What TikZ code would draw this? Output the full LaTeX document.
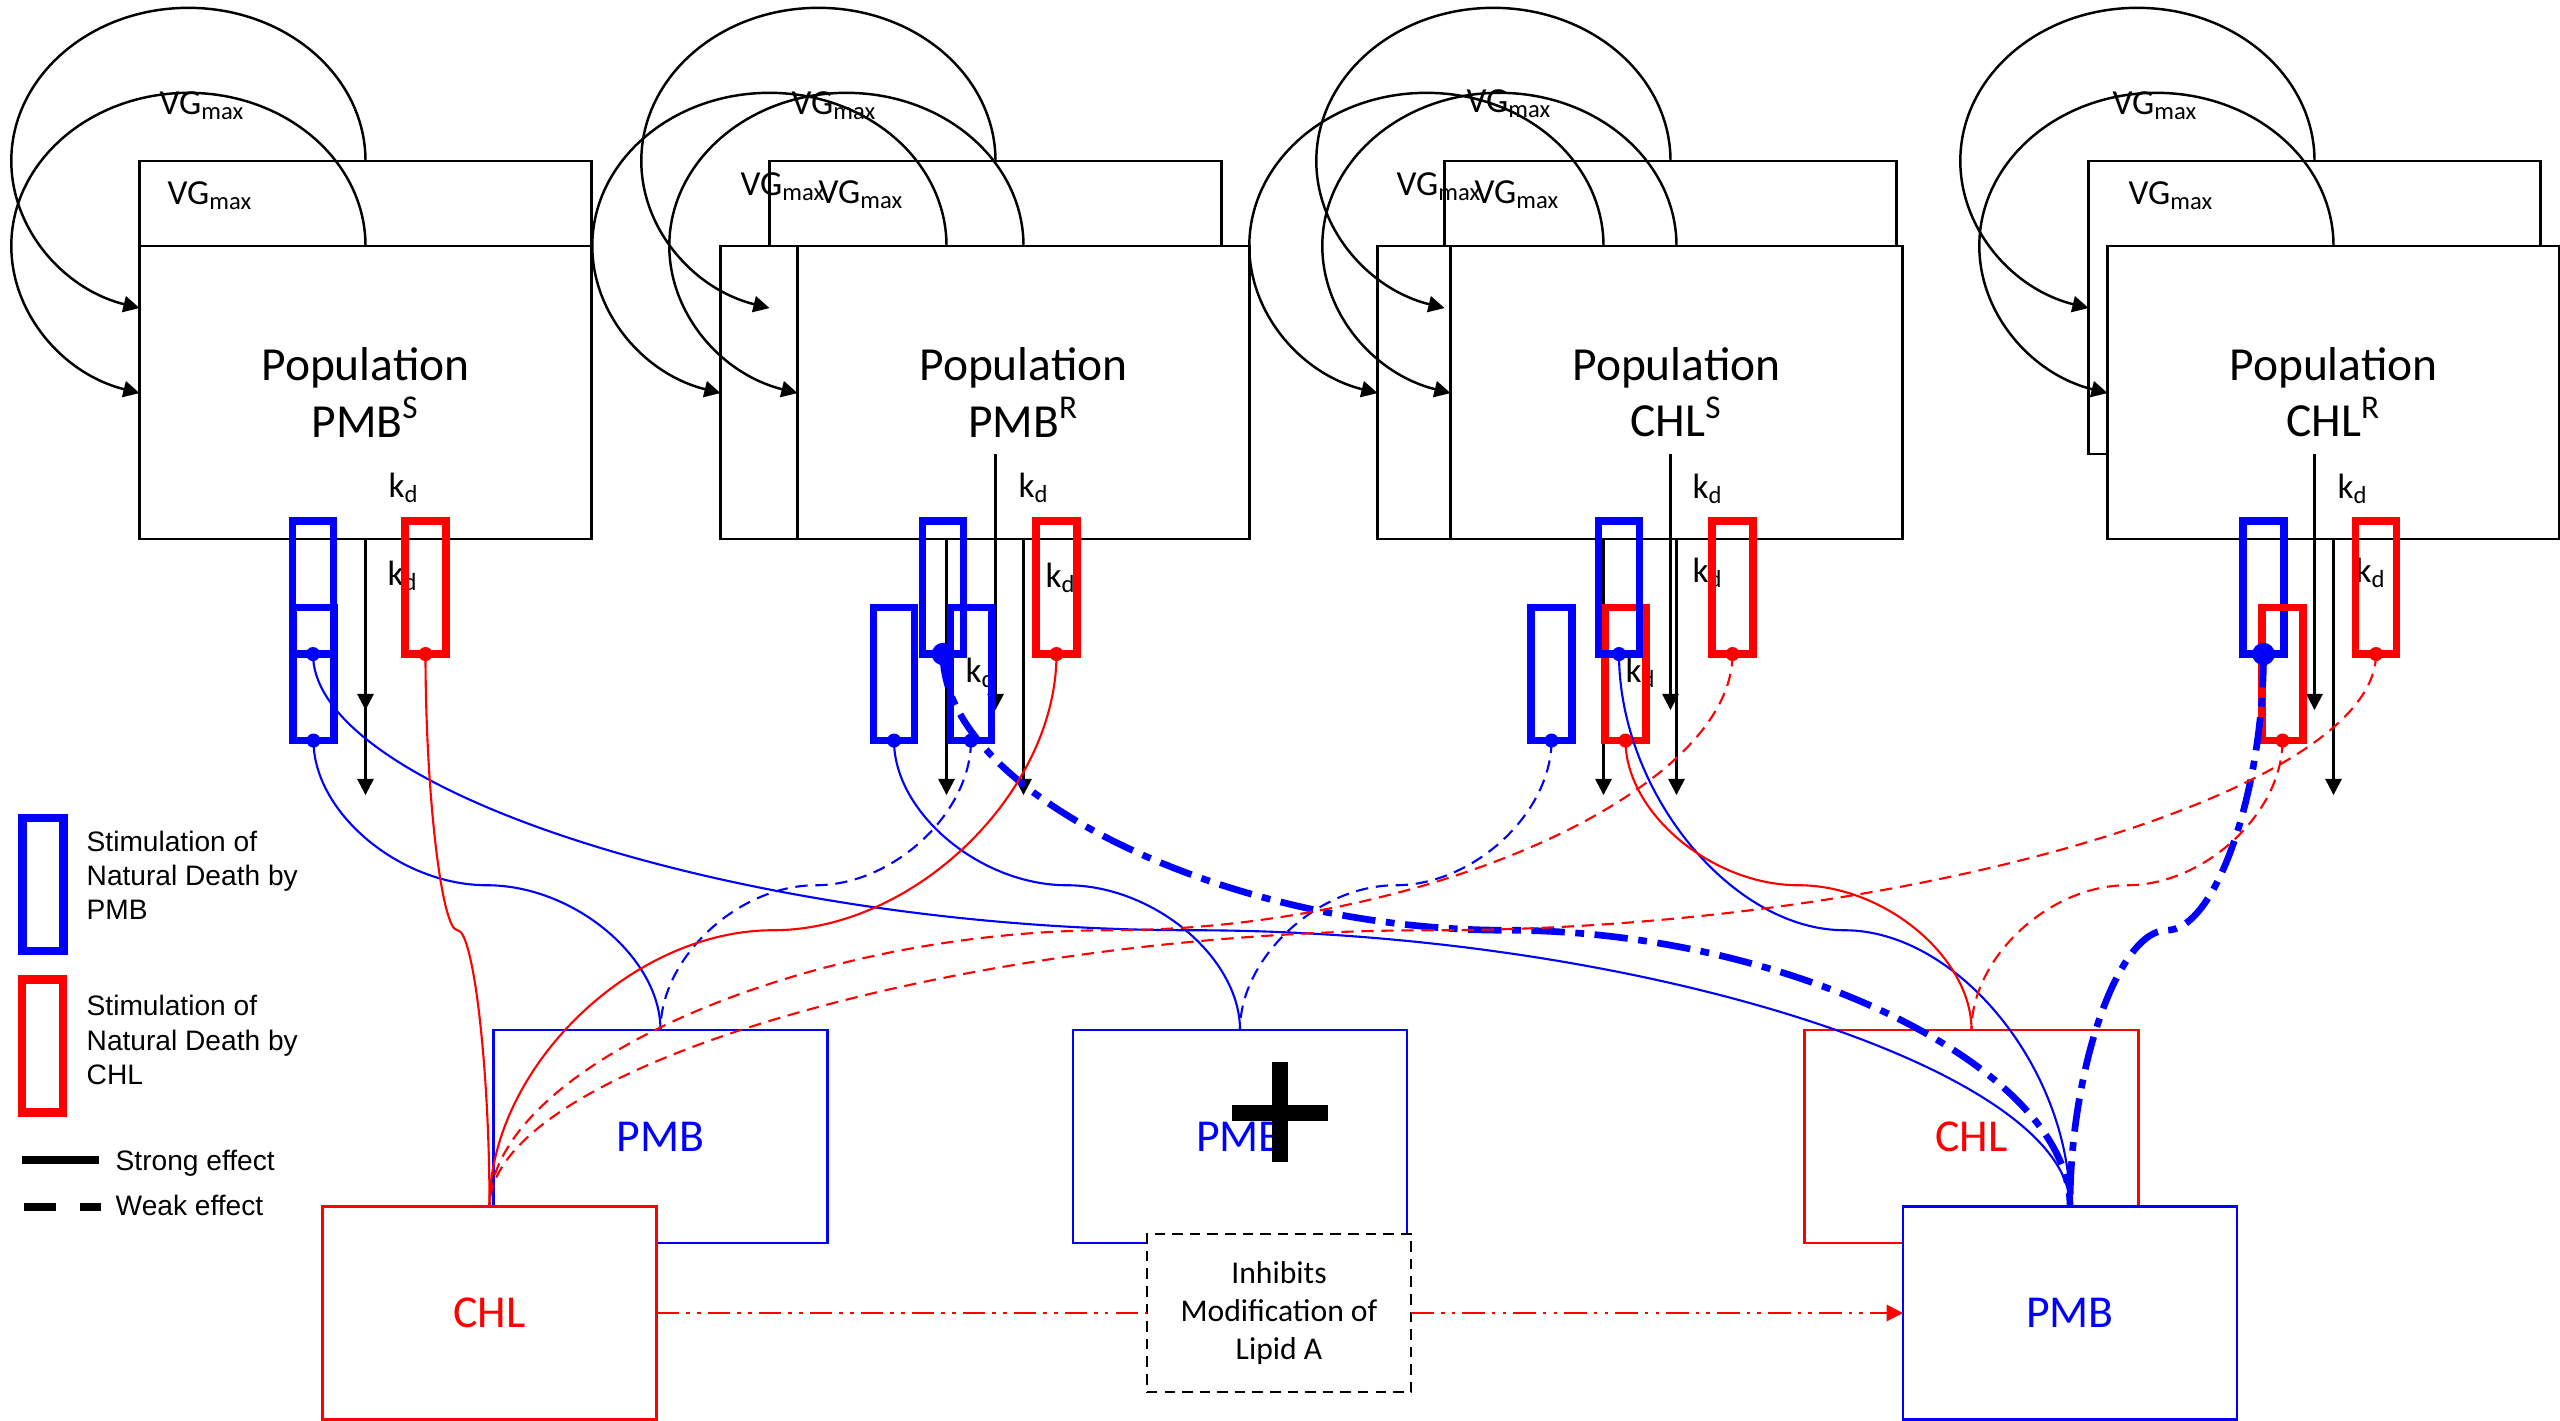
\documentclass[tikz,border=0pt]{standalone}
\usepackage{fontspec}
\setmainfont{Carlito}
\newfontfamily\legendfont{Liberation Sans}
\usetikzlibrary{arrows.meta,calc}

\newcommand{\poptext}{\fontsize{13.5pt}{16pt}\selectfont}
\newcommand{\drugtext}{\fontsize{13pt}{15.6pt}\selectfont}
\newcommand{\ratetext}{\fontsize{10pt}{12pt}\selectfont}
\newcommand{\notetext}{\fontsize{9pt}{10.8pt}\selectfont}
\newcommand{\legtext}{\legendfont\fontsize{8pt}{9.7pt}\selectfont}

% curved connector that runs flat half way between its ends
\newcommand{\curvelink}[3][]{%
  \draw[#1] let \p1=(#2), \p2=(#3) in (\p1)
    .. controls (\x1,{0.75*(\y1)+0.25*(\y2)}) and ({0.75*(\x1)+0.25*(\x2)},{0.5*(\y1)+0.5*(\y2)})
    .. ({0.5*(\x1)+0.5*(\x2)},{0.5*(\y1)+0.5*(\y2)})
    .. controls ({0.25*(\x1)+0.75*(\x2)},{0.5*(\y1)+0.5*(\y2)}) and (\x2,{0.25*(\y1)+0.75*(\y2)})
    .. (\p2);}

\tikzset{
  popbox/.style={draw, fill=white, line width=0.8pt, minimum width=4.51cm,
    minimum height=2.93cm, inner sep=0pt, outer sep=0pt, align=center, font=\poptext},
  drugbox/.style={draw=#1, text=#1, fill=white, line width=0.75pt, minimum width=3.34cm,
    minimum height=2.13cm, inner sep=0pt, outer sep=0pt, font=\drugtext},
  stimbox/.style={draw=#1, line width=2.1pt, minimum width=0.41cm, minimum height=1.33cm,
    inner sep=0pt, outer sep=0pt},
  rate/.style={anchor=base west, inner sep=0pt, font=\ratetext},
  flow/.style={line width=0.7pt, -{Triangle[width=4.6pt,length=4.6pt]}},
  strong/.style={line width=0.6pt},
  weak/.style={line width=0.6pt, dash pattern=on 3.5pt off 2.2pt},
  boost/.style={line width=1.9pt, dash pattern=on 9.5pt off 3pt on 2.5pt off 3pt},
  lipid/.style={red, line width=0.7pt, dash pattern=on 6.5pt off 2pt on 1pt off 2pt on 1pt off 2pt},
  legend/.style={anchor=west, align=left, inner sep=0pt, font=\legtext},
}

\begin{document}
\begin{tikzpicture}[x=0.01cm, y=-0.01cm]
  \useasboundingbox (0,0) rectangle (2560,1421);

  % --- population boxes, back copies first ---
  \node[popbox] (popPS0) at (365.5,307.5) {};
  \draw[flow] (popPS0.south) -- +(0,256);
  \node[popbox] (popPS) at (365.5,392.5) {Population\\PMB\textsuperscript{S}};
  \node[popbox] (popPR0) at (995.5,307.5) {};
  \node[popbox] (popPR1) at (946.5,392.5) {};
  \node[popbox] (popPR) at (1023.5,392.5) {Population\\PMB\textsuperscript{R}};
  \node[popbox] (popCS0) at (1670.5,307.5) {};
  \node[popbox] (popCS1) at (1603.5,392.5) {};
  \node[popbox] (popCS) at (1676.5,392.5) {Population\\CHL\textsuperscript{S}};
  \node[popbox] (popCR0) at (2314.5,307.5) {};
  \node[popbox] (popCR) at (2333.5,392.5) {Population\\CHL\textsuperscript{R}};

  % --- growth loops ---
  \foreach \p in {popPS0,popPS,popPR0,popPR1,popPR,popCS0,popCS1,popCS,popCR0,popCR}
    \draw[flow] (\p.north) arc[start angle=0, end angle=254, x radius=1.77cm, y radius=1.53cm];

  % --- natural death ---
  \foreach \p in {popPS,popPR0,popPR1,popPR,popCS0,popCS1,popCS,popCR0,popCR}
    \draw[flow] (\p.south) -- +(0,256);

  % --- rate labels ---
  \foreach \a/\b [count=\i] in {159/114, 167/204, 791/114, 740/195, 818/203,
      1466/112, 1396/195, 1474/203, 2112/114, 2128/204}
    \node[rate] (vg\i) at (\a,\b) {VG\textsubscript{max}};
  \foreach \a/\b [count=\i] in {388/497, 387/585, 1018/497, 1045/587, 965/682,
      1692/498, 1692/582, 1625/682, 2337/498, 2355/582}
    \node[rate] (kd\i) at (\a,\b) {k\textsubscript{d}};

  % --- stimulation markers ---
  \node[stimbox=blue] (b1a) at (313,587.5) {};
  \node[stimbox=blue] (b1b) at (313.5,674) {};
  \node[stimbox=red] (r1a) at (425.5,587.5) {};
  \node[stimbox=blue] (b2b) at (894,674) {};
  \node[stimbox=blue] (b2c) at (971,674) {};
  \node[stimbox=blue] (b2a) at (943,587.5) {};
  \node[stimbox=red] (r2a) at (1056.5,587.5) {};
  \node[stimbox=blue] (b3b) at (1551.5,674) {};
  \node[stimbox=red] (r3b) at (1625.5,674) {};
  \node[stimbox=blue] (b3a) at (1619,587.5) {};
  \node[stimbox=red] (r3a) at (1732.5,587.5) {};
  \node[stimbox=blue] (b4a) at (2263.5,587.5) {};
  \node[stimbox=red] (r4b) at (2282.5,674) {};
  \node[stimbox=red] (r4a) at (2376,587.5) {};

  % --- drug boxes ---
  \node[drugbox=blue] (pmbL) at (660.5,1136.5) {PMB};
  \node[drugbox=red] (chlL) at (489.5,1313) {CHL};
  \node[drugbox=blue] (pmbM) at (1240,1136.5) {PMB};
  \draw[line width=4.8pt] (1280,1062) -- (1280,1162) (1232,1113) -- (1328,1113);
  \node[draw, dash pattern=on 3pt off 2pt, fill=white, line width=0.7pt,
    minimum width=2.64cm, minimum height=1.58cm, inner sep=0pt, outer sep=0pt,
    align=center, font=\notetext] (inhib) at (1279,1313) {Inhibits\\Modification of\\Lipid A};
  \node[drugbox=red] (chlR) at (1971.5,1136.5) {CHL};
  \node[drugbox=blue] (pmbR) at (2070,1313) {PMB};

  \draw[lipid] (chlL.east) -- (inhib.west);
  \draw[lipid, -{Triangle[width=4.6pt,length=4.6pt]}] (inhib.east) -- (pmbR.west);

  % --- effects on natural death ---
  \curvelink[blue, strong]{b1a.south}{pmbR.north}
  \curvelink[blue, strong]{b1b.south}{pmbL.north}
  \curvelink[red, strong]{r1a.south}{chlL.north}
  \curvelink[blue, boost]{b2a.south}{pmbR.north}
  \curvelink[blue, strong]{b2b.south}{pmbM.north}
  \curvelink[blue, weak]{b2c.south}{pmbL.north}
  \curvelink[red, strong]{r2a.south}{chlL.north}
  \curvelink[blue, strong]{b3a.south}{pmbR.north}
  \curvelink[blue, weak]{b3b.south}{pmbM.north}
  \curvelink[red, weak]{r3a.south}{chlL.north}
  \curvelink[red, strong]{r3b.south}{chlR.north}
  \curvelink[blue, boost]{b4a.south}{pmbR.north}
  \curvelink[red, weak]{r4a.south}{chlL.north}
  \curvelink[red, weak]{r4b.south}{chlR.north}

  \foreach \m in {b1a,b1b,b2b,b2c,b3a,b3b}
    \fill[blue] (\m.south) circle[radius=2pt];
  \foreach \m in {r1a,r2a,r3a,r3b,r4a,r4b}
    \fill[red] (\m.south) circle[radius=2pt];
  \foreach \m in {b2a,b4a}
    \fill[blue] (\m.south) circle[radius=3.2pt];

  % --- legend ---
  \node[stimbox=blue, line width=2.4pt] (keyP) at (43,884.5) {};
  \node[legend] (keyPt) at (86,875.5) {Stimulation of\\Natural Death by\\PMB};
  \node[stimbox=red, line width=2.4pt] (keyC) at (42.5,1046) {};
  \node[legend] (keyCt) at (86,1040) {Stimulation of\\Natural Death by\\CHL};
  \node[legend] (keyS) at (115,1163) {Strong effect};
  \draw[line width=2.1pt] (22,1160) -- (99,1160);
  \node[legend] (keyW) at (115,1205) {Weak effect};
  \draw[line width=2.1pt, dash pattern=on 9.1pt off 6.8pt] (24,1207) -- (101,1207);

\end{tikzpicture}
\end{document}
